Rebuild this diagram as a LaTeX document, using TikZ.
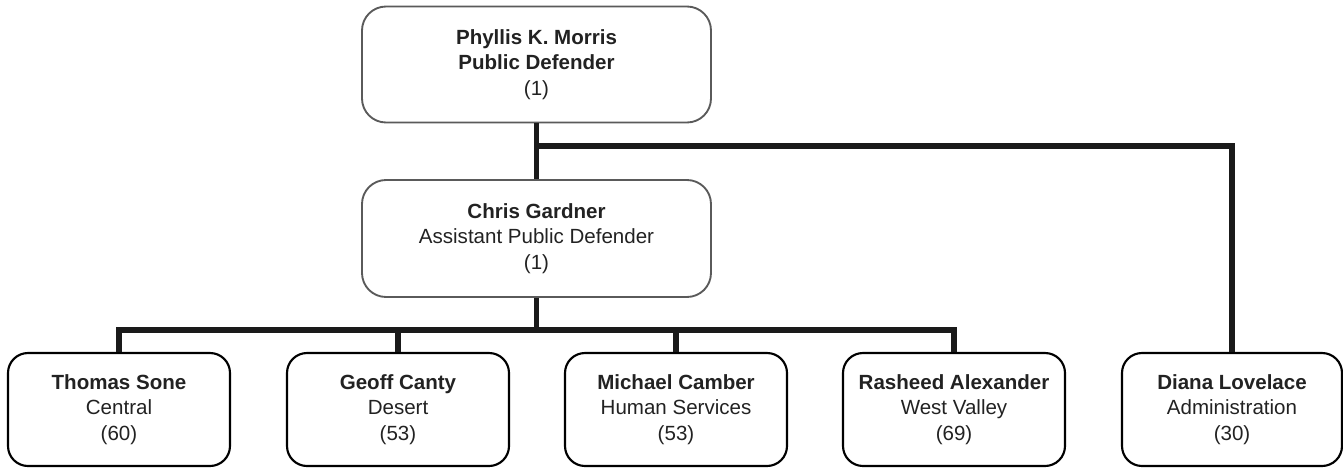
\documentclass[tikz,border=0pt]{standalone}
\usepackage{fontspec}
\setmainfont{Liberation Sans}
\definecolor{boxgray}{HTML}{5A5A5A}
\definecolor{linecol}{HTML}{1A1A1A}
\definecolor{textcol}{HTML}{222222}
\begin{document}
\begin{tikzpicture}[x=0.75pt,y=-0.75pt,
  topbox/.style={draw=boxgray, line width=1.4pt, rounded corners=18pt, fill=white,
    minimum width=261.75pt, minimum height=87pt, align=center, text=textcol,
    font=\fontsize{15.4}{18.9}\selectfont, inner sep=0pt},
  subbox/.style={draw=black, line width=1.6pt, rounded corners=15pt, fill=white,
    minimum width=166.5pt, minimum height=84.75pt, align=center, text=textcol,
    font=\fontsize{15.4}{18.9}\selectfont, inner sep=0pt},
  link/.style={draw=linecol, line width=3.8pt, line join=miter}]
\useasboundingbox (0,0) rectangle (1343,468);
\fill[white] (0,0) rectangle (1343,468);

\node[topbox] (pd) at (536.5,64.5) {\textbf{Phyllis K. Morris}\\\textbf{Public Defender}\\(1)};
\node[topbox, minimum height=87.75pt] (apd) at (536.5,238.5) {\textbf{Chris Gardner}\\Assistant Public Defender\\(1)};

\node[subbox] (ts) at (119,409.5) {\textbf{Thomas Sone}\\Central\\(60)};
\node[subbox] (gc) at (398,409.5) {\textbf{Geoff Canty}\\Desert\\(53)};
\node[subbox] (mc) at (676,409.5) {\textbf{Michael Camber}\\Human Services\\(53)};
\node[subbox] (ra) at (954,409.5) {\textbf{Rasheed Alexander}\\West Valley\\(69)};
\node[subbox, minimum width=165pt] (dl) at (1232,409.5) {\textbf{Diana Lovelace}\\Administration\\(30)};

\coordinate (j1) at (536.5,146);
\coordinate (j2) at (536.5,330);

\draw[link] (pd.south) -- (apd.north);
\draw[link] (j1) -| (dl.north);
\draw[link] (apd.south) -- (j2);
\draw[link] (ts.north) -- (ts.north |- j2) -- (ra.north |- j2) -- (ra.north);
\draw[link] (gc.north) -- (gc.north |- j2);
\draw[link] (mc.north) -- (mc.north |- j2);
\end{tikzpicture}
\end{document}
